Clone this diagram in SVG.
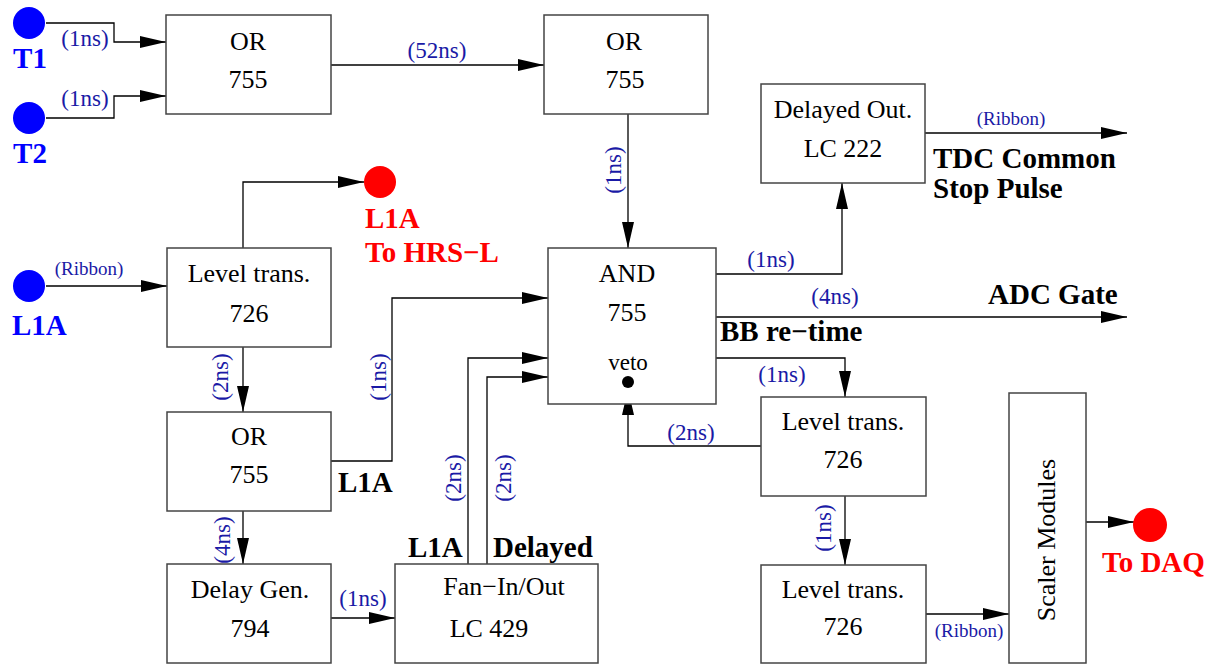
<svg xmlns="http://www.w3.org/2000/svg" width="1221" height="666" viewBox="0 0 1221 666">
<style>
.box{fill:#fff;stroke:#444;stroke-width:1.5}
.nt{font-family:"Liberation Serif",serif;font-size:26px;fill:#000;text-anchor:middle}
.lb{font-family:"Liberation Serif",serif;font-size:23px;fill:#1a1aa6}
.rb{font-family:"Liberation Serif",serif;font-size:19px;fill:#1a1aa6}
.bd{font-family:"Liberation Serif",serif;font-size:29px;font-weight:bold;fill:#000}
.bl{font-family:"Liberation Serif",serif;font-size:29px;font-weight:bold;fill:#0000ff}
.rd{font-family:"Liberation Serif",serif;font-size:29px;font-weight:bold;fill:#ff0000}
.cn{fill:none;stroke:#000;stroke-width:1.3;marker-end:url(#ah)}
</style>
<defs>
<marker id="ah" markerUnits="userSpaceOnUse" markerWidth="26" markerHeight="12" refX="26" refY="6" orient="auto">
<path d="M0,0 L26,6 L0,12 z" fill="#000"/>
</marker>
</defs>
<rect width="1221" height="666" fill="#fff"/>
<g id="connectors">
<path class="cn" d="M46,23 H114 V42 H166"/>
<path class="cn" d="M46,118 H114 V96 H166"/>
<path class="cn" d="M331,65 H544"/>
<path class="cn" d="M628,114 V248"/>
<path class="cn" d="M716,274 H842 V183"/>
<path class="cn" d="M925,133 H1127"/>
<path class="cn" d="M716,317 H1127"/>
<path class="cn" d="M716,358 H845 V397"/>
<path class="cn" d="M761,446 H628 V389"/>
<path class="cn" d="M845,496 V565"/>
<path class="cn" d="M926,614 H1009"/>
<path class="cn" d="M1086,522 H1134"/>
<path class="cn" d="M46,286 H167"/>
<path class="cn" d="M243,248 V182 H364"/>
<path class="cn" d="M243,347 V412"/>
<path class="cn" d="M331,461 H392 V298 H548"/>
<path class="cn" d="M243,511 V564"/>
<path class="cn" d="M331,618 H395"/>
<path class="cn" d="M468,564 V358 H548"/>
<path class="cn" d="M487,564 V377 H548"/>
<text class="lb" x="85" y="46" text-anchor="middle">(1ns)</text>
<text class="lb" x="85" y="106" text-anchor="middle">(1ns)</text>
<text class="lb" x="437" y="58" text-anchor="middle">(52ns)</text>
<text class="lb" transform="translate(621,170) rotate(-90)" text-anchor="middle">(1ns)</text>
<text class="lb" x="771" y="267" text-anchor="middle">(1ns)</text>
<text class="rb" x="1011" y="125" text-anchor="middle">(Ribbon)</text>
<text class="lb" x="835" y="304" text-anchor="middle">(4ns)</text>
<text class="lb" x="782" y="382" text-anchor="middle">(1ns)</text>
<text class="lb" x="691" y="440" text-anchor="middle">(2ns)</text>
<text class="lb" transform="translate(831,528) rotate(-90)" text-anchor="middle">(1ns)</text>
<text class="rb" x="969" y="637" text-anchor="middle">(Ribbon)</text>
<text class="rb" x="89" y="275" text-anchor="middle">(Ribbon)</text>
<text class="lb" transform="translate(228,377) rotate(-90)" text-anchor="middle">(2ns)</text>
<text class="lb" transform="translate(386,377) rotate(-90)" text-anchor="middle">(1ns)</text>
<text class="lb" transform="translate(230,540) rotate(-90)" text-anchor="middle">(4ns)</text>
<text class="lb" x="363" y="606" text-anchor="middle">(1ns)</text>
<text class="lb" transform="translate(461,478) rotate(-90)" text-anchor="middle">(2ns)</text>
<text class="lb" transform="translate(511,478) rotate(-90)" text-anchor="middle">(2ns)</text>
</g>
<g id="T1"><circle cx="29" cy="23" r="16" fill="#0000ff"/><text class="bl" x="30" y="68" text-anchor="middle">T1</text></g>
<g id="T2"><circle cx="29" cy="118" r="16" fill="#0000ff"/><text class="bl" x="30" y="163" text-anchor="middle">T2</text></g>
<g id="L1A-in"><circle cx="29" cy="286" r="16" fill="#0000ff"/><text class="bl" x="12" y="335">L1A</text></g>
<g id="L1A-out"><circle cx="380" cy="182" r="16" fill="#ff0000"/><text class="rd" x="365" y="228">L1A</text><text class="rd" x="365" y="262">To HRS−L</text></g>
<g id="DAQ"><circle cx="1150" cy="525" r="17" fill="#ff0000"/><text class="rd" x="1102" y="572">To DAQ</text></g>
<g id="or1"><rect class="box" x="166" y="15" width="165" height="99"/><text class="nt" x="248" y="50">OR</text><text class="nt" x="248" y="88">755</text></g>
<g id="or2"><rect class="box" x="544" y="15" width="164" height="99"/><text class="nt" x="624" y="50">OR</text><text class="nt" x="625" y="88">755</text></g>
<g id="delayed-out"><rect class="box" x="761" y="84" width="164" height="99"/><text class="nt" x="843" y="118">Delayed Out.</text><text class="nt" x="843" y="157">LC 222</text></g>
<g id="tdc-label"><text class="bd" x="933" y="168">TDC Common</text><text class="bd" x="933" y="198">Stop Pulse</text></g>
<g id="adc-label"><text class="bd" x="988" y="304">ADC Gate</text><text class="bd" x="720" y="341">BB re−time</text></g>
<g id="and"><rect class="box" x="548" y="248" width="168" height="156"/><text class="nt" x="627" y="282">AND</text><text class="nt" x="627" y="321">755</text><text class="nt" x="628" y="370" style="font-size:23px">veto</text><circle cx="628" cy="382" r="6" fill="#000"/></g>
<g id="lt-left"><rect class="box" x="167" y="248" width="164" height="99"/><text class="nt" x="249" y="282">Level trans.</text><text class="nt" x="249" y="322">726</text></g>
<g id="or-left"><rect class="box" x="167" y="412" width="164" height="99"/><text class="nt" x="249" y="445">OR</text><text class="nt" x="249" y="483">755</text></g>
<g id="l1a-label"><text class="bd" x="338" y="492">L1A</text></g>
<g id="delay-gen"><rect class="box" x="167" y="564" width="164" height="99"/><text class="nt" x="250" y="598">Delay Gen.</text><text class="nt" x="250" y="637">794</text></g>
<g id="fan"><rect class="box" x="395" y="564" width="203" height="99"/><text class="nt" x="504" y="595">Fan−In/Out</text><text class="nt" x="489" y="637">LC 429</text><text class="bd" x="408" y="557">L1A</text><text class="bd" x="493" y="557">Delayed</text></g>
<g id="lt-right"><rect class="box" x="761" y="397" width="165" height="99"/><text class="nt" x="843" y="430">Level trans.</text><text class="nt" x="843" y="468">726</text></g>
<g id="lt-bottom"><rect class="box" x="761" y="565" width="165" height="98"/><text class="nt" x="843" y="598">Level trans.</text><text class="nt" x="843" y="635">726</text></g>
<g id="scaler"><rect class="box" x="1009" y="393" width="77" height="270"/><text class="nt" transform="translate(1055,540) rotate(-90)">Scaler Modules</text></g>
</svg>
